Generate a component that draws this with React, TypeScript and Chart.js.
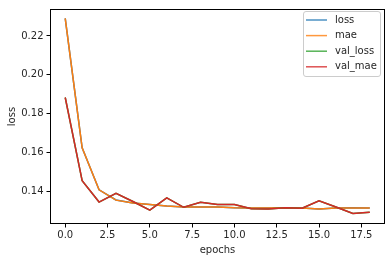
import React, { useEffect, useRef } from "react";
import { Chart, registerables } from "chart.js";

Chart.register(...registerables);

const epochs = [0, 1, 2, 3, 4, 5, 6, 7, 8, 9, 10, 11, 12, 13, 14, 15, 16, 17, 18];
const lossValues = [0.2291, 0.1624, 0.1407, 0.1355, 0.1339, 0.1331, 0.1324, 0.1319, 0.1319, 0.1319, 0.1315, 0.1313, 0.1313, 0.1315, 0.1313, 0.1308, 0.1313, 0.1315, 0.1313];
const maeValues = [0.2291, 0.1624, 0.1407, 0.1354, 0.1339, 0.1331, 0.1324, 0.1319, 0.1319, 0.1319, 0.1315, 0.1313, 0.1313, 0.1315, 0.1313, 0.1308, 0.1313, 0.1314, 0.1313];
const valLossValues = [0.1883, 0.1454, 0.1344, 0.1389, 0.1347, 0.1302, 0.1366, 0.1317, 0.1343, 0.1331, 0.1332, 0.1310, 0.1308, 0.1315, 0.1312, 0.1351, 0.1319, 0.1285, 0.1292];
const valMaeValues = [0.1883, 0.1454, 0.1344, 0.1389, 0.1347, 0.1302, 0.1366, 0.1317, 0.1343, 0.1331, 0.1332, 0.1310, 0.1308, 0.1315, 0.1312, 0.1351, 0.1319, 0.1285, 0.1292];
const seriesLabels = ["loss", "mae", "val_loss", "val_mae"];
const seriesColors = ["#1f77b4", "#ff7f0e", "#2ca02c", "#d62728"];
const legendColors = ["#4c92c3", "#ff983e", "#56b356", "#de5253"];
const xTicks = [0, 2.5, 5, 7.5, 10, 12.5, 15, 17.5];
const yTicks = [0.14, 0.16, 0.18, 0.2, 0.22];
const xLabel = "epochs";
const yLabel = "loss";

const FONT = "10px 'DejaVu Sans'";
const TEXT = "#262626";

const framePlugin = {
  id: "framePlugin",
  afterDraw(chart: any) {
    const { ctx, chartArea: a } = chart;
    ctx.save();
    ctx.strokeStyle = "#000";
    ctx.lineWidth = 1;
    ctx.strokeRect(Math.round(a.left) + 0.5, Math.round(a.top) + 0.5, Math.round(a.right - a.left) - 1, Math.round(a.bottom - a.top) - 1);

    // axis titles
    ctx.fillStyle = TEXT;
    ctx.font = FONT;
    ctx.textAlign = "center";
    ctx.textBaseline = "middle";
    ctx.fillText(xLabel, (a.left + a.right) / 2, 250);
    ctx.save();
    ctx.translate(12, (a.top + a.bottom) / 2);
    ctx.rotate(-Math.PI / 2);
    ctx.fillText(yLabel, 0, 0);
    ctx.restore();

    // legend
    const bx = 303.5, by = 11.5, bw = 77, bh = 65, r = 2.5;
    ctx.beginPath();
    ctx.moveTo(bx + r, by);
    ctx.lineTo(bx + bw - r, by);
    ctx.arcTo(bx + bw, by, bx + bw, by + r, r);
    ctx.lineTo(bx + bw, by + bh - r);
    ctx.arcTo(bx + bw, by + bh, bx + bw - r, by + bh, r);
    ctx.lineTo(bx + r, by + bh);
    ctx.arcTo(bx, by + bh, bx, by + bh - r, r);
    ctx.lineTo(bx, by + r);
    ctx.arcTo(bx, by, bx + r, by, r);
    ctx.closePath();
    ctx.fillStyle = "rgba(255,255,255,0.8)";
    ctx.fill();
    ctx.strokeStyle = "#cccccc";
    ctx.lineWidth = 1;
    ctx.stroke();
    ctx.textAlign = "left";
    chart.data.datasets.forEach((ds: any, i: number) => {
      const y = 20 + i * 15.6;
      ctx.strokeStyle = legendColors[i];
      ctx.lineWidth = 1.5;
      ctx.beginPath();
      ctx.moveTo(306, y);
      ctx.lineTo(327, y);
      ctx.stroke();
      ctx.fillStyle = TEXT;
      ctx.fillText(ds.label, 335, y);
    });
    ctx.restore();
  },
};

export default function App() {
  const ref = useRef<HTMLCanvasElement>(null);
  useEffect(() => {
    const values = [lossValues, maeValues, valLossValues, valMaeValues];
    const chart = new Chart(ref.current!, {
      type: "line",
      data: {
        datasets: seriesLabels.map((label, i) => ({
          label,
          data: epochs.map((e, j) => ({ x: e, y: values[i][j] })),
          borderColor: seriesColors[i],
          backgroundColor: seriesColors[i],
          borderWidth: 1.5,
          pointRadius: 0,
          tension: 0,
          fill: false,
          order: 4 - i,
        })),
      },
      options: {
        animation: false,
        responsive: false,
        maintainAspectRatio: false,
        layout: { padding: { top: 6, right: 7, left: 0, bottom: 0 } },
        plugins: { legend: { display: false }, tooltip: { enabled: false } },
        scales: {
          x: {
            type: "linear",
            min: -0.9,
            max: 18.9,
            afterBuildTicks: (s: any) => {
              s.ticks = xTicks.map((v) => ({ value: v }));
            },
            afterFit: (s: any) => {
              s.height = 38;
            },
            grid: { display: true, drawOnChartArea: false, drawTicks: true, tickLength: 3.5, color: "#000", tickColor: "#000" },
            border: { display: false },
            ticks: {
              font: { family: "DejaVu Sans", size: 10 },
              color: TEXT,
              padding: 2,
              maxRotation: 0,
              autoSkip: false,
              callback: (v: any) => Number(v).toFixed(1),
            },
          },
          y: {
            type: "linear",
            min: 0.1231,
            max: 0.2339,
            afterBuildTicks: (s: any) => {
              s.ticks = yTicks.map((v) => ({ value: v }));
            },
            afterFit: (s: any) => {
              s.width = 50;
            },
            grid: { display: true, drawOnChartArea: false, drawTicks: true, tickLength: 3.5, color: "#000", tickColor: "#000" },
            border: { display: false },
            ticks: {
              font: { family: "DejaVu Sans", size: 10 },
              color: TEXT,
              padding: 3,
              autoSkip: false,
              callback: (v: any) => Number(v).toFixed(2),
            },
          },
        },
      },
      plugins: [framePlugin],
    });
    return () => chart.destroy();
  }, []);
  return (
    <div style={{ position: "fixed", left: 0, top: 0, width: 392, height: 262, background: "#fff" }}>
      <canvas ref={ref} width={392} height={262} style={{ width: 392, height: 262, display: "block" }} />
    </div>
  );
}
